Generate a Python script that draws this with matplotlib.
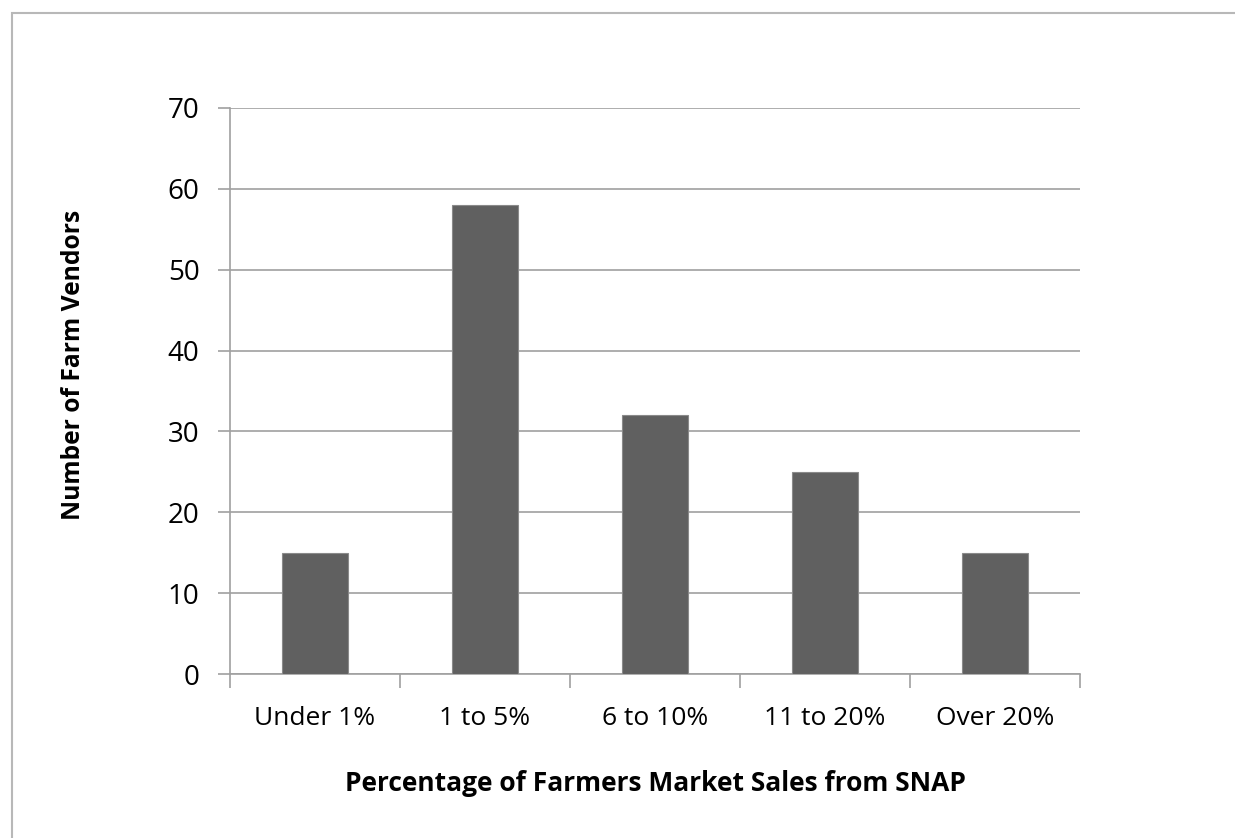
import matplotlib
matplotlib.use("Agg")
from matplotlib import pyplot as plt
from matplotlib.patches import Rectangle

categories = ["Under 1%", "1 to 5%", "6 to 10%", "11 to 20%", "Over 20%"]
vendors = [15, 58, 32, 25, 15]
y_ticks = [0, 10, 20, 30, 40, 50, 60, 70]

plt.rcParams["font.family"] = ["Open Sans", "DejaVu Sans"]

W, H = 1235, 838
fig = plt.figure(figsize=(W / 100, H / 100), dpi=100)

# cadre gris autour du graphique (bords droit et bas hors image)
fig.patches.append(Rectangle((12 / W, -0.1), 1.2, (H - 13) / H + 0.1,
                             transform=fig.transFigure, fill=False,
                             edgecolor="#b8b8b8", linewidth=1.5))

ax = fig.add_axes([230 / W, 1 - 674 / H, 850 / W, (674 - 108) / H])

x = list(range(len(categories)))
ax.bar(x, vendors, width=0.39, color="#606060", edgecolor="#8a8a8a",
       linewidth=0.8, zorder=3)

ax.set_xlim(-0.5, len(categories) - 0.5)
ax.set_ylim(0, 70)
ax.set_yticks(y_ticks)
ax.yaxis.grid(True, color="#a0a0a0", linewidth=1.2, zorder=0)
ax.set_axisbelow(True)

for side in ["top", "right"]:
    ax.spines[side].set_visible(False)
for side in ["left", "bottom"]:
    ax.spines[side].set_color("#a0a0a0")
    ax.spines[side].set_linewidth(1.2)

# graduations x entre les catégories
ax.set_xticks([i - 0.5 for i in range(len(categories) + 1)])
ax.set_xticklabels([])
ax.set_xticks(x, minor=True)
ax.set_xticklabels(categories, minor=True, fontsize=19)
ax.tick_params(axis="x", which="major", length=10, color="#a0a0a0", width=1.2)
ax.tick_params(axis="x", which="minor", length=0, pad=23)
ax.tick_params(axis="y", length=9, color="#a0a0a0", width=1.2, labelsize=20, pad=13)

ax.set_xlabel("Percentage of Farmers Market Sales from SNAP",
              fontsize=19, fontweight="bold", labelpad=28)
fig.text(74 / W, 1 - 365 / H, "Number of Farm Vendors", rotation=90,
         ha="center", va="center", fontsize=17.7, fontweight="bold")

fig.savefig("out.png", dpi=100)
